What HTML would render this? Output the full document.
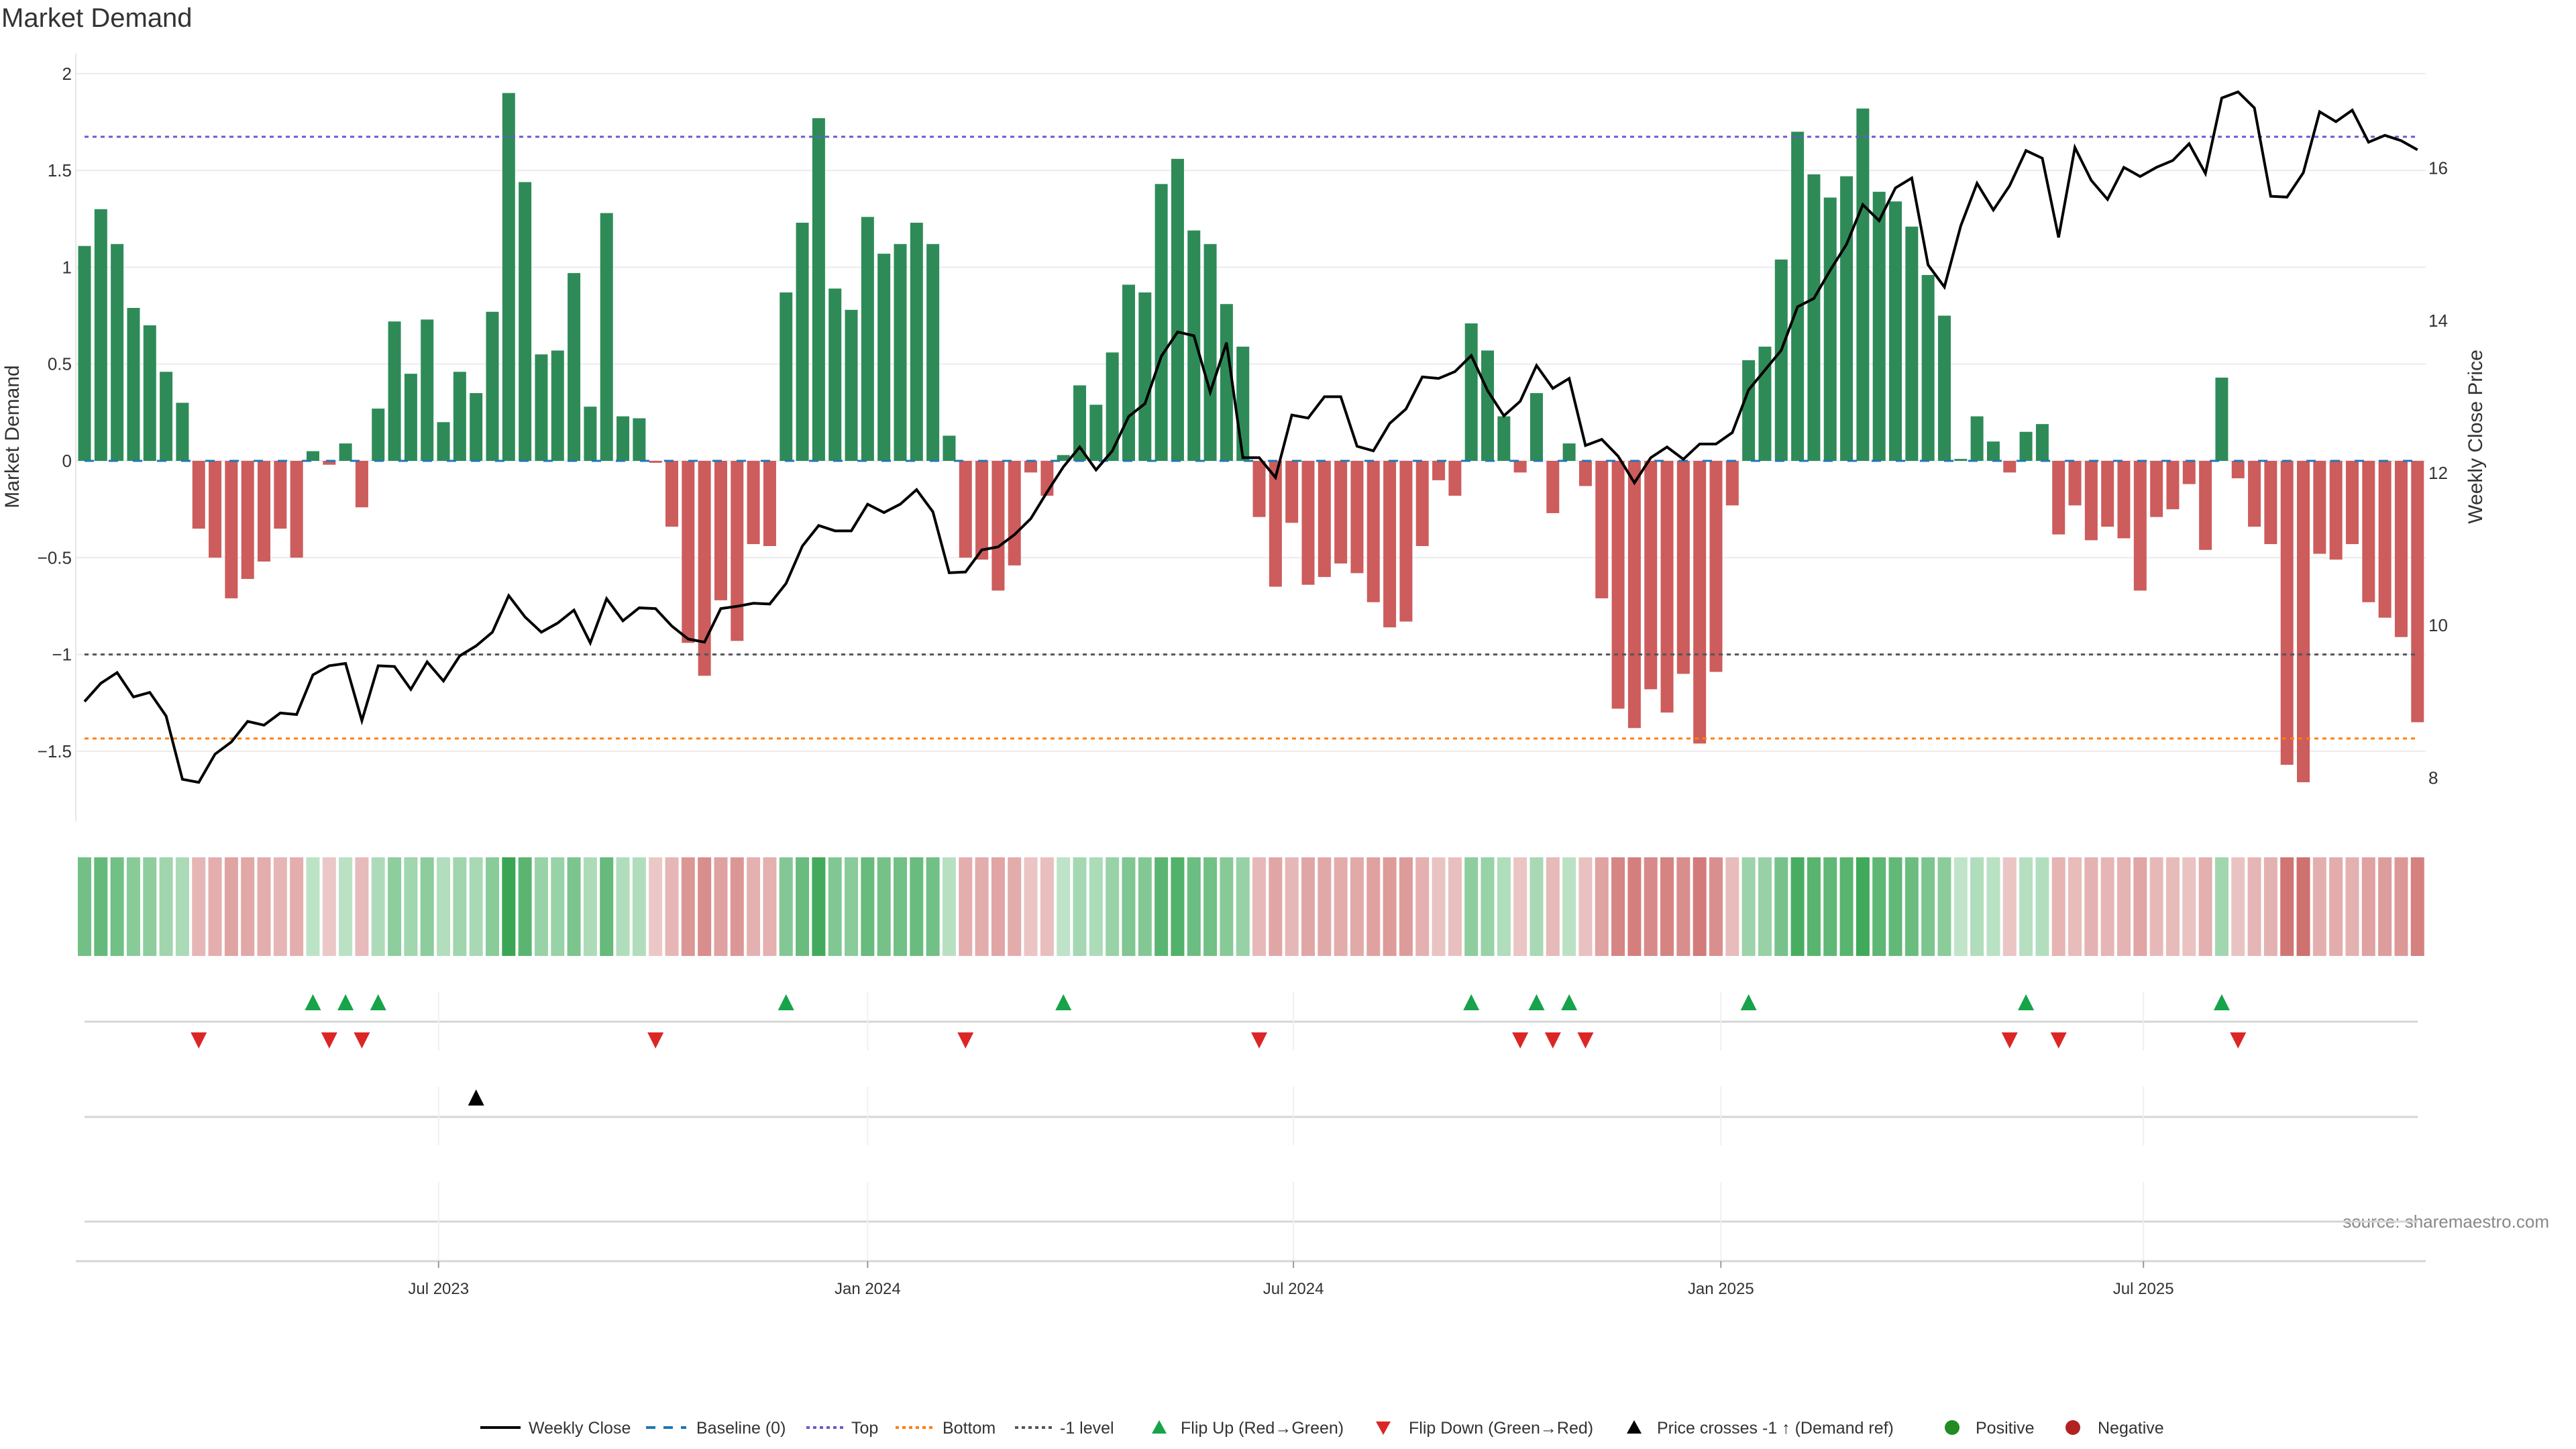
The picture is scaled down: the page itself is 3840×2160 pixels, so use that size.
<!DOCTYPE html>
<html><head><meta charset="utf-8"><style>
html,body{margin:0;padding:0;background:#fff;}
svg{display:block;font-family:"Liberation Sans","DejaVu Sans",sans-serif;}
</style></head><body>
<svg id="chart" width="3840" height="2160" viewBox="0 0 3840 2160" xmlns="http://www.w3.org/2000/svg">
<text x="2" y="40" font-size="40" fill="#333">Market Demand</text>
<text transform="translate(28,651) rotate(-90)" text-anchor="middle" font-size="30" fill="#333">Market Demand</text>
<text transform="translate(3700,651) rotate(-90)" text-anchor="middle" font-size="30" fill="#333">Weekly Close Price</text>
<text x="3800" y="1830" text-anchor="end" font-size="26" fill="#888">source: sharemaestro.com</text>
<g id="g"></g>
</svg>
<script>
const demand=[1.11,1.30,1.12,0.79,0.70,0.46,0.30,-0.35,-0.50,-0.71,-0.61,-0.52,-0.35,-0.50,0.05,-0.02,0.09,-0.24,0.27,0.72,0.45,0.73,0.20,0.46,0.35,0.77,1.90,1.44,0.55,0.57,0.97,0.28,1.28,0.23,0.22,-0.01,-0.34,-0.94,-1.11,-0.72,-0.93,-0.43,-0.44,0.87,1.23,1.77,0.89,0.78,1.26,1.07,1.12,1.23,1.12,0.13,-0.50,-0.51,-0.67,-0.54,-0.06,-0.18,0.03,0.39,0.29,0.56,0.91,0.87,1.43,1.56,1.19,1.12,0.81,0.59,-0.29,-0.65,-0.32,-0.64,-0.60,-0.53,-0.58,-0.73,-0.86,-0.83,-0.44,-0.10,-0.18,0.71,0.57,0.23,-0.06,0.35,-0.27,0.09,-0.13,-0.71,-1.28,-1.38,-1.18,-1.30,-1.10,-1.46,-1.09,-0.23,0.52,0.59,1.04,1.70,1.48,1.36,1.47,1.82,1.39,1.34,1.21,0.96,0.75,0.01,0.23,0.10,-0.06,0.15,0.19,-0.38,-0.23,-0.41,-0.34,-0.40,-0.67,-0.29,-0.25,-0.12,-0.46,0.43,-0.09,-0.34,-0.43,-1.57,-1.66,-0.48,-0.51,-0.43,-0.73,-0.81,-0.91,-1.35];
const price=[9.00,9.24,9.38,9.06,9.12,8.81,7.98,7.94,8.31,8.47,8.74,8.69,8.85,8.83,9.35,9.47,9.50,8.75,9.47,9.46,9.16,9.52,9.27,9.60,9.73,9.91,10.39,10.11,9.91,10.03,10.20,9.77,10.35,10.06,10.23,10.22,9.99,9.82,9.78,10.22,10.25,10.29,10.28,10.55,11.04,11.31,11.24,11.24,11.59,11.48,11.59,11.78,11.49,10.69,10.70,10.99,11.03,11.19,11.40,11.75,12.08,12.34,12.04,12.29,12.74,12.91,13.53,13.85,13.80,13.06,13.71,12.20,12.20,11.94,12.76,12.72,13.00,13.00,12.35,12.29,12.65,12.84,13.26,13.24,13.33,13.54,13.08,12.75,12.94,13.41,13.11,13.24,12.36,12.44,12.22,11.87,12.20,12.34,12.18,12.38,12.38,12.53,13.09,13.35,13.61,14.18,14.29,14.66,15.00,15.52,15.31,15.74,15.87,14.73,14.44,15.24,15.80,15.45,15.77,16.23,16.13,15.09,16.27,15.84,15.59,16.01,15.89,16.01,16.10,16.32,15.93,16.92,17.00,16.79,15.63,15.62,15.94,16.74,16.61,16.76,16.34,16.43,16.36,16.24];
const leftTicks=[2,1.5,1,0.5,0,-0.5,-1,-1.5];
const leftTickLabels=["2","1.5","1","0.5","0","\u22120.5","\u22121","\u22121.5"];
const rightTicks=[8,10,12,14,16];
const xTickPos=[21.7,48.0,74.1,100.3,126.2];
const xTickLabels=["Jul 2023","Jan 2024","Jul 2024","Jan 2025","Jul 2025"];
const topLevel=1.674, bottomLevel=-1.434, minusLevel=-1;

const NS="http://www.w3.org/2000/svg";
const G=document.getElementById('g');
function el(t,a,p){const e=document.createElementNS(NS,t);for(const k in a)e.setAttribute(k,a[k]);(p||G).appendChild(e);return e;}
const X=i=>126+i*24.32;
const Y=v=>687-v*288.6;
const YP=p=>705-(p-12)*113.6;
const L=113,R=3616;

leftTicks.forEach((t,k)=>{
  const gl=el('line',{x1:L,x2:R,y1:Y(t),y2:Y(t),stroke:'#ececf0','stroke-width':2});
  
  
  const tx=el('text',{x:107,y:Y(t)+9,'text-anchor':'end','font-size':26,fill:'#333'});
  tx.textContent=leftTickLabels[k];
  
  
});
rightTicks.forEach(t=>{
  const tx=el('text',{x:3620,y:YP(t)+9,'font-size':26,fill:'#333'});
  tx.textContent=String(t);
  
  
});
const ax=el('line',{x1:L,x2:L,y1:80,y2:1224,stroke:'#e6e6e6','stroke-width':2});



demand.forEach((v,i)=>{
  const y0=Y(0),y1=Y(v);
  const b=el('rect',{x:X(i)-9.5,y:Math.min(y0,y1),width:19,height:Math.max(Math.abs(y1-y0),1.5),fill:v>=0?'#2e8b57':'#cd5c5c'});
  
  
});
function ref(v,col,dash,name){const l=el('line',{x1:126,x2:3604,y1:Y(v),y2:Y(v),stroke:col,'stroke-width':3,'stroke-dasharray':dash});}
ref(0,'#1f77b4','14 22','baseline-line');
ref(topLevel,'#6a5acd','6 6','top-line');
ref(minusLevel,'#555','6 6','minus-one-line');
ref(bottomLevel,'#ff7f0e','6 6','bottom-line');
const pl=el('polyline',{points:price.map((p,i)=>X(i)+','+YP(p)).join(' '),fill:'none',stroke:'#000','stroke-width':4,'stroke-linejoin':'miter'});



demand.forEach((v,i)=>{
  const t=0.18+0.82*Math.min(Math.abs(v)/1.9,1);
  const lo=v>=0?[222,242,227]:[242,222,222], hi=v>=0?[58,166,85]:[203,100,98];
  const c=lo.map((a,k)=>Math.round(a+(hi[k]-a)*t));
  const r=el('rect',{x:X(i)-10,y:1278,width:20,height:147,fill:'rgb('+c.join(',')+')'});
  
  
});

[[1478,1566,1523],[1620,1707,1665],[1762,1880,1821]].forEach(([a,b,h])=>{
  const l=el('line',{x1:126,x2:3604,y1:h,y2:h,stroke:'#d6d6d6','stroke-width':3});
  
  
  xTickPos.forEach(p=>{const g=el('line',{x1:X(p),x2:X(p),y1:a,y2:b,stroke:'#eef0f2','stroke-width':2});});
});
const xa=el('line',{x1:L,x2:R,y1:1880,y2:1880,stroke:'#d6d6d6','stroke-width':3});


xTickPos.forEach((p,k)=>{
  const tk=el('line',{x1:X(p),x2:X(p),y1:1880,y2:1890,stroke:'#999','stroke-width':2});
  
  
  const tx=el('text',{x:X(p),y:1929,'text-anchor':'middle','font-size':24,fill:'#333'});
  tx.textContent=xTickLabels[k];
  
  
});
function tri(x,y,up,col,name){const s=12;const pts=up?[[x-s,y+s],[x+s,y+s],[x,y-s]]:[[x-s,y-s],[x+s,y-s],[x,y+s]];const p=el('polygon',{points:pts.map(q=>q.join(',')).join(' '),fill:col});}
for(let i=1;i<demand.length;i++){
  if(demand[i-1]<0&&demand[i]>=0)tri(X(i),1494,true,'#16a34a','flip-up-marker');
  if(demand[i-1]>=0&&demand[i]<0)tri(X(i),1551,false,'#dc2626','flip-down-marker');
}
const thr=12-(Y(minusLevel)-705)/113.6;
for(let i=1;i<price.length;i++){
  if(price[i-1]<thr&&price[i]>=thr)tri(X(i),1636,true,'#000','price-cross-marker');
}

const leg=[['line','Weekly Close',716,788],['dash','Baseline (0)',963,1038],['dotp','Top',1202,1269],['doto','Bottom',1335,1405],['dotg','-1 level',1513,1580],['up','Flip Up (Red\u2192Green)',1728,1760],['down','Flip Down (Green\u2192Red)',2062,2100],['blk','Price crosses -1 \u2191 (Demand ref)',2436,2470],['pos','Positive',2910,2945],['neg','Negative',3090,3127]];
const LY=2128;
leg.forEach(([k,txt,mx,tx])=>{
  const g=el('g',{});
  
  
  if(k==='line')el('line',{x1:mx,x2:mx+60,y1:LY,y2:LY,stroke:'#000','stroke-width':4},g);
  if(k==='dash')el('line',{x1:mx,x2:mx+60,y1:LY,y2:LY,stroke:'#1f77b4','stroke-width':4,'stroke-dasharray':'14 12'},g);
  if(k==='dotp')el('line',{x1:mx,x2:mx+60,y1:LY,y2:LY,stroke:'#6a5acd','stroke-width':4,'stroke-dasharray':'5 5'},g);
  if(k==='doto')el('line',{x1:mx,x2:mx+60,y1:LY,y2:LY,stroke:'#ff7f0e','stroke-width':4,'stroke-dasharray':'5 5'},g);
  if(k==='dotg')el('line',{x1:mx,x2:mx+60,y1:LY,y2:LY,stroke:'#555','stroke-width':4,'stroke-dasharray':'5 5'},g);
  if(k==='up')el('polygon',{points:`${mx-11},${LY+9} ${mx+11},${LY+9} ${mx},${LY-11}`,fill:'#16a34a'},g);
  if(k==='down')el('polygon',{points:`${mx-11},${LY-9} ${mx+11},${LY-9} ${mx},${LY+11}`,fill:'#dc2626'},g);
  if(k==='blk')el('polygon',{points:`${mx-11},${LY+9} ${mx+11},${LY+9} ${mx},${LY-11}`,fill:'#000'},g);
  if(k==='pos')el('circle',{cx:mx,cy:LY,r:11,fill:'#228b22'},g);
  if(k==='neg')el('circle',{cx:mx,cy:LY,r:11,fill:'#b22222'},g);
  const t=el('text',{x:tx,y:LY+9,'font-size':25,fill:'#333'},g);
  t.textContent=txt;
});
</script>
</body></html>
